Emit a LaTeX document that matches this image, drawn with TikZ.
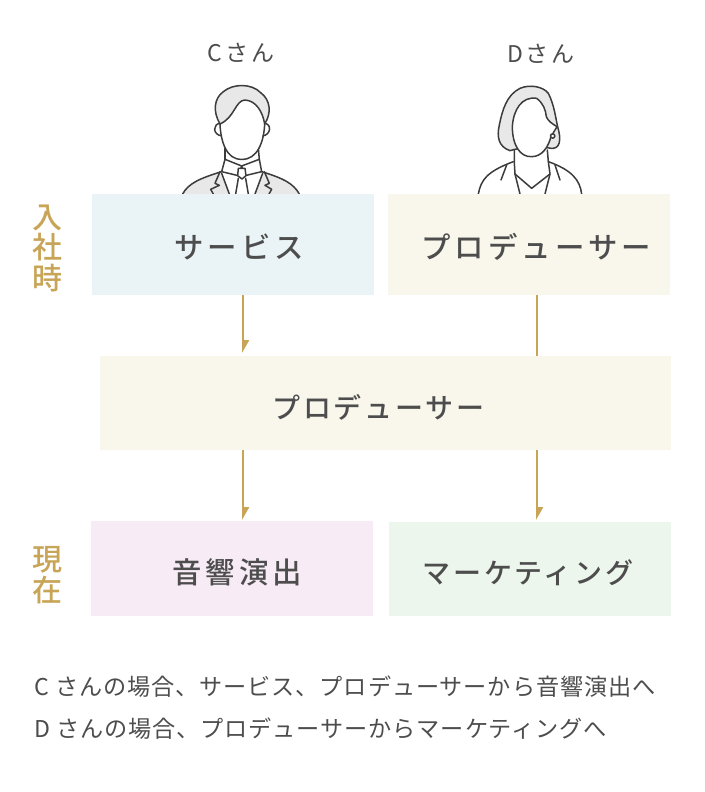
\documentclass[tikz,border=0pt]{standalone}
\usepackage{fontspec}
\usepackage{tikz}
\usetikzlibrary{arrows.meta}
\setmainfont{Noto Sans CJK JP}
\newfontfamily\boxfont[LetterSpace=14]{Noto Sans CJK JP Medium}
\newfontfamily\midfont[LetterSpace=10]{Noto Sans CJK JP Medium}
\newfontfamily\namefont[LetterSpace=12]{Noto Sans CJK JP}
\newfontfamily\notefont[LetterSpace=4]{Noto Sans CJK JP}
\newfontfamily\sidefont{Noto Sans CJK JP Medium}
\definecolor{gold}{HTML}{C8A456}
\definecolor{ink}{HTML}{4D4D4D}
\definecolor{figline}{HTML}{3C3C3C}
\definecolor{figfill}{HTML}{E8E8E8}
\definecolor{bluebox}{HTML}{EAF4F7}
\definecolor{creambox}{HTML}{F9F7EC}
\definecolor{pinkbox}{HTML}{F7EBF6}
\definecolor{greenbox}{HTML}{ECF6ED}
\tikzset{
	role/.style={anchor=north west, inner sep=0pt, outer sep=0pt},
	roletext/.style={text=ink, inner sep=0pt, font=\fontsize{29.4}{29.4}\boxfont},
	midtext/.style={text=ink, inner sep=0pt, font=\fontsize{28}{28}\midfont},
	nametext/.style={text=ink, inner sep=0pt, font=\fontsize{23}{23}\namefont},
	sidetext/.style={text=gold, inner sep=0pt, align=center, font=\fontsize{30}{30.5}\sidefont},
	notetext/.style={text=ink, inner sep=0pt, anchor=west, font=\fontsize{23.15}{23.15}\notefont},
	link/.style={gold, line width=2pt},
	linkhead/.style={link, -{Triangle[left, length=11pt, width=12pt]}},
	figure/.style={figline, line width=1.5pt, line join=round, line cap=round},
}
\begin{document}
\begin{tikzpicture}[x=1pt, y=-1pt]
	\useasboundingbox (0,0) rectangle (704,792);

	% man
	\begin{scope}[shift={(170,30)}, x=0.3333pt, y=-0.3333pt]
		\fill [figfill] (38,492) .. controls (55,460) and (90,445) .. (155,425) -- (275,425) .. controls (340,445) and (370,460) .. (388,492) -- cycle;
		\fill [white] (150,425) -- (178,492) -- (255,492) -- (283,425) -- cycle;
		\draw [figure] (38,492) .. controls (55,460) and (90,445) .. (155,425);
		\draw [figure] (388,492) .. controls (370,460) and (340,445) .. (275,425);
		\draw [figure] (150,425) -- (135,460) -- (148,466) -- (122,478) -- (130,492);
		\draw [figure] (283,425) -- (298,460) -- (285,466) -- (305,478) -- (297,492);
		\draw [figure] (155,430) -- (178,492);
		\draw [figure] (278,430) -- (255,492);
		\draw [figure] (165,355) -- (165,388);
		\draw [figure] (265,355) -- (268,388);
		\filldraw [figure, fill=white] (165,388) -- (155,425) -- (205,437) -- (215,408) -- (225,437) -- (275,425) -- (268,388) -- (215,408) -- cycle;
		\filldraw [figure, fill=white] (205,415) -- (225,415) -- (228,437) -- (216,447) -- (203,437) -- cycle;
		\draw [figure] (205,445) -- (197,492);
		\draw [figure] (227,445) -- (235,492);
		\draw [figure] (152,280) .. controls (128,280) and (126,315) .. (157,318);
		\draw [figure] (282,280) .. controls (306,280) and (304,315) .. (277,318);
		\fill [white] (150,250) .. controls (148,320) and (165,390) .. (215,388) .. controls (265,390) and (285,320) .. (283,250) -- cycle;
		\draw [figure] (150,282) .. controls (152,335) and (170,390) .. (215,388) .. controls (262,390) and (282,335) .. (284,282);
		\filldraw [figure, fill=figfill] (150,282) .. controls (128,245) and (132,205) .. (160,185) .. controls (190,160) and (245,160) .. (272,188) .. controls (302,210) and (305,250) .. (284,282) .. controls (278,245) and (258,212) .. (225,210) .. controls (195,212) and (195,262) .. (150,282) -- cycle;
	\end{scope}

	% woman
	\begin{scope}[shift={(465,30)}, x=0.3333pt, y=-0.3333pt]
		\draw [figure] (40,492) .. controls (48,450) and (65,425) .. (145,395);
		\draw [figure] (350,492) .. controls (345,450) and (320,420) .. (250,395);
		\draw [figure] (125,405) -- (108,450);
		\draw [figure] (270,405) -- (285,450);
		\draw [figure] (150,432) -- (165,492);
		\draw [figure] (255,432) -- (240,492);
		\draw [figure] (148,350) -- (148,400) -- (150,432) -- (200,475) -- (255,432) -- (250,395) -- (247,360);
		\filldraw [figure, fill=figfill] (135,362) .. controls (100,350) and (95,320) .. (103,285) .. controls (112,240) and (125,195) .. (165,175) .. controls (195,162) and (235,170) .. (250,190) .. controls (268,225) and (272,265) .. (278,290) .. controls (290,330) and (285,358) .. (258,355) .. controls (240,350) and (170,350) .. (135,362) -- cycle;
		\filldraw [figure, fill=white] (215,205) .. controls (170,198) and (145,240) .. (142,290) .. controls (142,345) and (165,382) .. (200,380) .. controls (232,380) and (250,350) .. (258,320) -- (276,290) .. controls (262,282) and (248,272) .. (244,260) .. controls (242,240) and (235,220) .. (215,205) -- cycle;
		\filldraw [figure, fill=white] (263,318) circle (6.5);
	\end{scope}

	\node [nametext] (nameC) at (241,53) {Cさん};
	\node [nametext] (nameD) at (541,54) {Dさん};

	\node [role, fill=bluebox, minimum width=282pt, minimum height=101pt] (service) at (92,194) {};
	\node [role, fill=creambox, minimum width=282pt, minimum height=101pt] (producerD) at (388,194) {};
	\node [role, fill=creambox, minimum width=571pt, minimum height=94pt] (producer) at (100,356) {};
	\node [role, fill=pinkbox, minimum width=282pt, minimum height=95pt] (sound) at (91,521) {};
	\node [role, fill=greenbox, minimum width=282pt, minimum height=94pt] (marketing) at (389,522) {};

	\node [roletext] (serviceText) at (239,247) {サービス};
	\node [roletext] (producerDText) at (536,247) {プロデューサー};
	\node [midtext] (producerText) at (378.5,407) {プロデューサー};
	\node [roletext] (soundText) at (237,572) {音響演出};
	\node [midtext] (marketingText) at (528,573) {マーケティング};

	\coordinate (lineC) at (243,0);
	\coordinate (lineD) at (537,0);
	\draw [linkhead] (lineC |- service.south) -- ([yshift=3pt] lineC |- producer.north);
	\draw [link] (lineD |- producerD.south) -- (lineD |- producer.north);
	\draw [linkhead] (lineC |- producer.south) -- ([yshift=1pt] lineC |- sound.north);
	\draw [linkhead] (lineD |- producer.south) -- ([yshift=2pt] lineD |- marketing.north);

	\node [sidetext] (joined) at (47,248) {入\\社\\時};
	\node [sidetext] (current) at (47,575) {現\\在};

	\node [notetext] (noteC) at (34,687) {C さんの場合、サービス、プロデューサーから音響演出へ};
	\node [notetext] (noteD) at (34,729) {D さんの場合、プロデューサーからマーケティングへ};
\end{tikzpicture}
\end{document}
